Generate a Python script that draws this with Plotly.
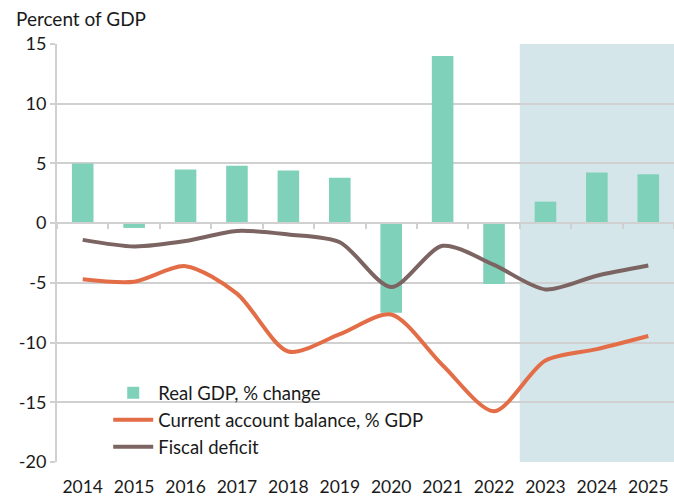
import plotly.graph_objects as go

years = ["2014", "2015", "2016", "2017", "2018", "2019", "2020", "2021", "2022", "2023", "2024", "2025"]
real_gdp = [5.0, -0.4, 4.5, 4.8, 4.4, 3.8, -7.5, 14.0, -5.1, 1.8, 4.25, 4.1]
current_account = [-4.7, -4.9, -3.6, -5.9, -10.75, -9.3, -7.65, -11.9, -15.75, -11.5, -10.55, -9.45]
fiscal_deficit = [-1.4, -1.95, -1.5, -0.65, -0.95, -1.6, -5.35, -1.9, -3.5, -5.55, -4.4, -3.55]
y_ticks = [15, 10, 5, 0, -5, -10, -15, -20]
y_tick_text = ["15", "10", "5", "0", "-5", "-10", "-15", "-20"]

font_family = "Lato, 'Open Sans', sans-serif"
grid_color = "#d0d0d0"

fig = go.Figure()
fig.add_trace(go.Bar(x=years, y=real_gdp, name="Real GDP, % change",
                     marker=dict(color="#80d1b9", line=dict(width=0)), width=0.42))
fig.add_trace(go.Scatter(x=years, y=current_account, name="Current account balance, % GDP",
                         mode="lines", line=dict(color="#e36d47", width=4, shape="spline", smoothing=0.8)))
fig.add_trace(go.Scatter(x=years, y=fiscal_deficit, name="Fiscal deficit",
                         mode="lines", line=dict(color="#7b6461", width=4, shape="spline", smoothing=0.8)))
# helper invisible trace for zero-line axis with boundary ticks
fig.add_trace(go.Scatter(x=years, y=[0] * len(years), xaxis="x2", mode="lines",
                         line=dict(width=0), showlegend=False, hoverinfo="skip"))

fig.add_shape(type="rect", xref="x", yref="y", x0=8.5, x1=11.5, y0=-20, y1=15,
              fillcolor="#d4e6ea", line=dict(width=0), layer="below")

ymin, ymax = -20, 15
fig.update_layout(
    width=674, height=498,
    margin=dict(l=57, r=0, t=44, b=36, autoexpand=False),
    paper_bgcolor="white", plot_bgcolor="white",
    font=dict(family=font_family, size=18, color="#1a1a1a"),
    showlegend=True,
    legend=dict(x=0.083, y=0.21, xanchor="left", yanchor="top", bgcolor="rgba(0,0,0,0)",
                font=dict(size=18.5), tracegroupgap=0, itemwidth=40),
    xaxis=dict(type="category", categoryorder="array", categoryarray=years,
               range=[-0.5, 11.5], showgrid=False, showline=False, ticks="",
               tickfont=dict(size=17.5), automargin=False, ticklabelstandoff=12),
    xaxis2=dict(type="category", categoryorder="array", categoryarray=years,
                range=[-0.5, 11.5], overlaying="x", anchor="free",
                position=(0 - ymin) / (ymax - ymin), side="bottom",
                showticklabels=False, showgrid=False, showline=True,
                linecolor=grid_color, linewidth=2, ticks="outside", tickson="boundaries",
                ticklen=5, tickwidth=2, tickcolor=grid_color, automargin=False),
    yaxis=dict(range=[ymin, ymax], tickvals=y_ticks, ticktext=y_tick_text,
               showgrid=True, gridcolor=grid_color, gridwidth=2, zeroline=False,
               showline=True, linecolor=grid_color, linewidth=2,
               ticks="outside", ticklen=5, tickwidth=2, tickcolor=grid_color,
               tickfont=dict(size=18), automargin=False),
    annotations=[dict(text="Percent of GDP", xref="paper", yref="paper", x=-0.07, y=1.0,
                      yshift=12, xanchor="left", yanchor="bottom", showarrow=False,
                      font=dict(size=19))],
)

fig.write_html("out.html", config={"displayModeBar": False},
               post_script="document.body.style.margin='0';document.body.style.overflow='hidden';")
